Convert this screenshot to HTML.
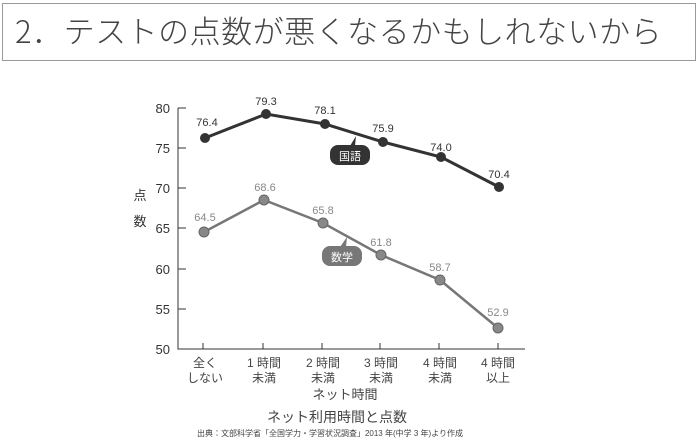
<!DOCTYPE html><html><head><meta charset="utf-8"><style>
body{margin:0;background:#fff;width:700px;height:443px;overflow:hidden;font-family:"Liberation Sans","Noto Sans CJK JP",sans-serif}
.t{position:absolute;left:2px;top:3px;width:694px;height:58px;border:1px solid #999;box-sizing:border-box}
.t span{position:absolute;left:12px;top:6px;font-size:31px;line-height:40px;white-space:nowrap;color:#444;font-weight:300;letter-spacing:0.5px;font-family:"Noto Sans CJK JP",sans-serif}
</style></head><body>
<div class="t"><span>2．テストの点数が悪くなるかもしれないから</span></div>
<svg width="700" height="443" style="position:absolute;left:0;top:0" font-family="Liberation Sans, Noto Sans CJK JP, sans-serif">
<g stroke="#333" stroke-width="1" fill="none">
<path d="M178 108V349H525"/>
<path d="M178 108h8M178 148h8M178 188h8M178 228h8M178 269h8M178 309h8"/>
<path d="M203 349v-6M263 349v-6M322 349v-6M380 349v-6M439 349v-6M498 349v-6"/>
</g>
<g font-size="13" fill="#333" text-anchor="end">
<text x="170" y="113">80</text><text x="170" y="153">75</text><text x="170" y="193">70</text><text x="170" y="233">65</text><text x="170" y="274">60</text><text x="170" y="314">55</text><text x="170" y="354">50</text>
</g>
<text x="140" y="200" font-size="13" fill="#333" text-anchor="middle">点</text>
<text x="140" y="226" font-size="13" fill="#333" text-anchor="middle">数</text>
<polyline points="205,138 266,114 325,124 383,142 441,157 499,187" fill="none" stroke="#333" stroke-width="3"/>
<g fill="#333"><circle cx="205" cy="138" r="5"/><circle cx="266" cy="114" r="5"/><circle cx="325" cy="124" r="5"/><circle cx="383" cy="142" r="5"/><circle cx="441" cy="157" r="5"/><circle cx="499" cy="187" r="5"/></g>
<polyline points="204,232 264,200 323,223 381,255 440,280 498,328" fill="none" stroke="#777" stroke-width="2.5"/>
<g fill="#888" stroke="#666"><circle cx="204" cy="232" r="5"/><circle cx="264" cy="200" r="5"/><circle cx="323" cy="223" r="5"/><circle cx="381" cy="255" r="5"/><circle cx="440" cy="280" r="5"/><circle cx="498" cy="328" r="5"/></g>
<g font-size="11" fill="#333" text-anchor="middle">
<text x="207" y="126">76.4</text><text x="266" y="105">79.3</text><text x="325" y="114">78.1</text><text x="383" y="132">75.9</text><text x="441" y="151">74.0</text><text x="499" y="178">70.4</text>
</g>
<g font-size="11" fill="#888" text-anchor="middle">
<text x="205" y="221">64.5</text><text x="265" y="191">68.6</text><text x="323" y="214">65.8</text><text x="381" y="246">61.8</text><text x="440" y="271">58.7</text><text x="498" y="316">52.9</text>
</g>
<rect x="330" y="145" width="40" height="20" rx="8" fill="#333"/><path d="M350 146l6-10-1 10z" fill="#333"/>
<text x="350" y="160" font-size="11" fill="#fff" text-anchor="middle">国語</text>
<rect x="322" y="246" width="40" height="20" rx="8" fill="#777"/><path d="M340 247l7-10-1 10z" fill="#777"/>
<text x="342" y="261" font-size="11" fill="#fff" text-anchor="middle">数学</text>
<g font-size="12" fill="#444" text-anchor="middle">
<text x="205" y="367">全く</text><text x="205" y="382">しない</text>
<text x="264" y="367">1 時間</text><text x="264" y="382">未満</text>
<text x="323" y="367">2 時間</text><text x="323" y="382">未満</text>
<text x="381" y="367">3 時間</text><text x="381" y="382">未満</text>
<text x="440" y="367">4 時間</text><text x="440" y="382">未満</text>
<text x="498" y="367">4 時間</text><text x="498" y="382">以上</text>
<text x="345" y="399" font-size="13">ネット時間</text>
<text x="337" y="422" font-size="14">ネット利用時間と点数</text>
<text x="330" y="436" font-size="8">出典：文部科学省「全国学力・学習状況調査」2013 年(中学 3 年)より作成</text>
</g>
</svg>
</body></html>
